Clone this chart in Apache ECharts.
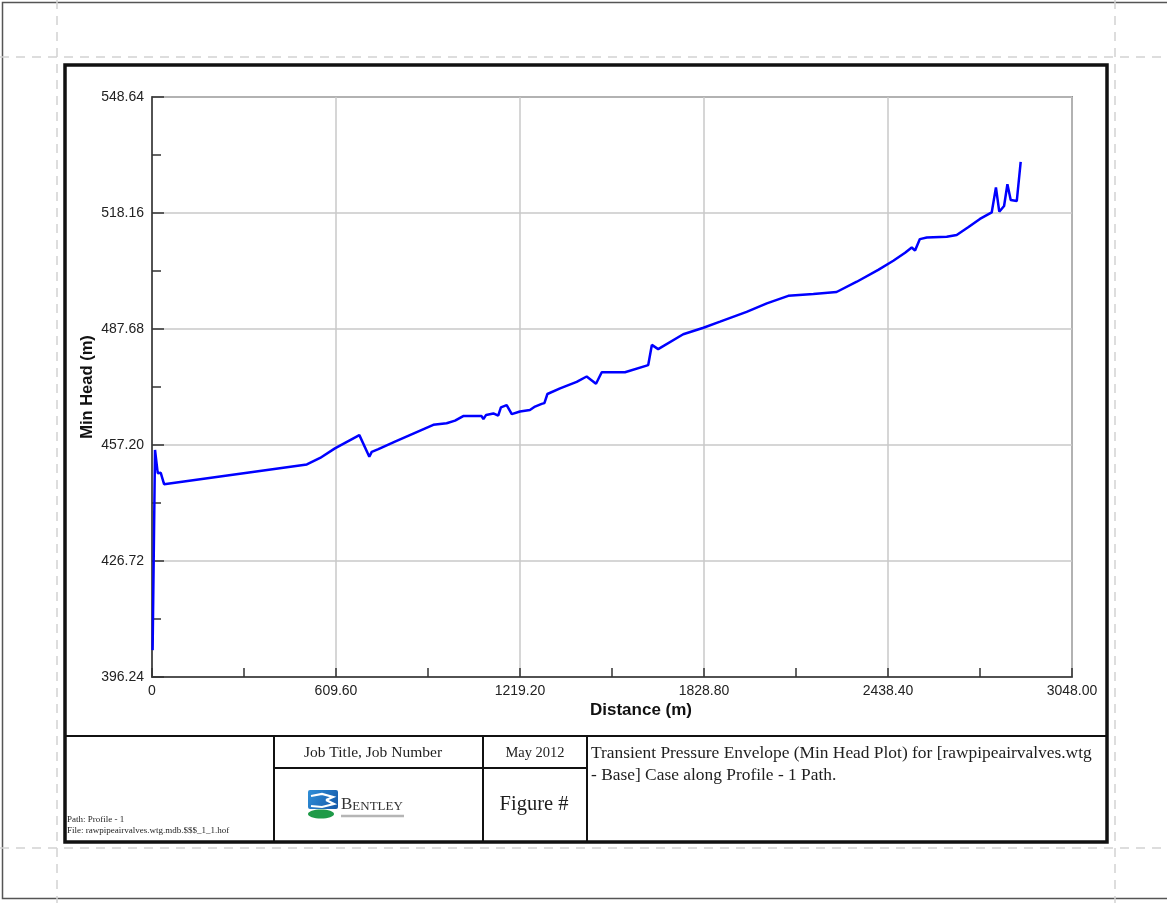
<!DOCTYPE html>
<html>
<head>
<meta charset="utf-8">
<title>Transient Pressure Envelope (Min Head Plot)</title>
<script src="https://cdn.jsdelivr.net/npm/echarts@6/dist/echarts.min.js"></script>
<style>
  html, body { margin: 0; padding: 0; background: #ffffff; }
  #chart { width: 1167px; height: 903px; }
</style>
</head>
<body>
<div id="chart"></div>
<script>
// Distance along the profile path (m)
const distance = [
  2, 10, 19, 29, 40, 513, 557, 606, 687, 720, 728, 750, 805, 932, 976,
  1004, 1031, 1092, 1098, 1107, 1131, 1147, 1156, 1175, 1192, 1219, 1252,
  1269, 1291, 1300, 1310, 1352, 1407, 1440, 1471, 1490, 1567, 1644, 1656,
  1677, 1760, 1827, 1882, 1970, 2037, 2108, 2191, 2268, 2335, 2406, 2456,
  2495, 2517, 2528, 2544, 2567, 2633, 2666, 2704, 2743, 2782, 2796, 2807,
  2823, 2834, 2845, 2865, 2878
];
// Minimum hydraulic head at each distance (m)
const minHead = [
  403.3, 455.9, 449.8, 449.9, 446.9, 452.1, 453.8, 456.3, 459.8, 454.1, 455.4, 456.1, 458.1, 462.5, 462.9,
  463.6, 464.8, 464.8, 464.0, 465.1, 465.5, 464.9, 467.1, 467.7, 465.3, 466.0, 466.4,
  467.3, 468.0, 468.2, 470.6, 472.1, 473.8, 475.2, 473.3, 476.3, 476.3, 478.2, 483.5,
  482.4, 486.3, 488.0, 489.6, 492.2, 494.4, 496.4, 496.9, 497.4, 500.1, 503.2, 505.6,
  507.7, 509.1, 508.3, 511.3, 511.7, 511.9, 512.4, 514.4, 516.6, 518.3, 524.9, 518.5,
  520.0, 525.7, 521.6, 521.3, 531.6
];

// Axis ranges and tick spacing
const xRange = [0, 3048];
const xStep = 609.6;
const yRange = [396.24, 548.64];
const yStep = 30.48;

// Title block texts
const jobTitle = 'Job Title, Job Number';
const dateText = 'May 2012';
const figureText = 'Figure #';
const titleLines = [
  'Transient Pressure Envelope (Min Head Plot) for [rawpipeairvalves.wtg',
  '- Base] Case along Profile - 1 Path.'
];
const footLines = ['Path: Profile - 1', 'File: rawpipeairvalves.wtg.mdb.$$$_1_1.hof'];

const points = distance.map((d, i) => [d, minHead[i]]);

const SANS = 'Liberation Sans, Arial, sans-serif';
const SERIF = 'Liberation Serif, Times New Roman, serif';
const dash = { stroke: '#d2d2d2', lineWidth: 1.5, lineDash: [9, 7] };

function hLine(x1, x2, y, style) {
  return { type: 'line', shape: { x1: x1, y1: y, x2: x2, y2: y }, style: style, silent: true };
}
function vLine(x, y1, y2, style) {
  return { type: 'line', shape: { x1: x, y1: y1, x2: x, y2: y2 }, style: style, silent: true };
}
function txt(x, y, text, font, size, align) {
  return {
    type: 'text', x: x, y: y, silent: true,
    style: { text: text, fontFamily: font, fontSize: size, fill: '#1e1e1e', align: align, verticalAlign: 'middle' }
  };
}

const frameStroke = { stroke: '#111', lineWidth: 2 };

const graphics = [
  // sheet edge and page-tile guides
  { type: 'rect', shape: { x: 2.5, y: 2.5, width: 1170, height: 896 }, style: { fill: 'none', stroke: '#555', lineWidth: 1.5 }, silent: true },
  hLine(0, 1167, 57, dash),
  hLine(0, 1167, 848, dash),
  vLine(57, 0, 903, dash),
  vLine(1115, 0, 903, dash),
  // drawing frame
  { type: 'rect', shape: { x: 65, y: 65, width: 1042, height: 777 }, style: { fill: 'none', stroke: '#111', lineWidth: 3.5 }, silent: true },
  // title block grid
  hLine(65, 1107, 736, frameStroke),
  vLine(274, 736, 842, frameStroke),
  vLine(483, 736, 842, frameStroke),
  vLine(587, 736, 842, frameStroke),
  hLine(274, 587, 768, frameStroke),
  // title block texts
  txt(373, 753, jobTitle, SERIF, 15.5, 'center'),
  txt(535, 753, dateText, SERIF, 14.5, 'center'),
  txt(534, 805, figureText, SERIF, 20.5, 'center'),
  txt(591, 753, titleLines[0], SERIF, 17.4, 'left'),
  txt(591, 775, titleLines[1], SERIF, 17.4, 'left'),
  txt(67, 820, footLines[0], SERIF, 9, 'left'),
  txt(67, 831, footLines[1], SERIF, 9, 'left'),
  // company mark
  {
    type: 'rect', shape: { x: 308, y: 790, width: 30, height: 19, r: 2 }, silent: true,
    style: { fill: new echarts.graphic.LinearGradient(0, 0, 1, 1, [{ offset: 0, color: '#2f8fd8' }, { offset: 1, color: '#1558a8' }]) }
  },
  { type: 'polyline', shape: { points: [[311, 796], [322, 794], [333, 797], [326, 800]] }, style: { fill: 'none', stroke: '#fff', lineWidth: 2.2 }, silent: true },
  { type: 'polyline', shape: { points: [[326, 800], [334, 804], [322, 807], [311, 806]] }, style: { fill: 'none', stroke: '#fff', lineWidth: 2.2 }, silent: true },
  { type: 'ellipse', shape: { cx: 321, cy: 814, rx: 13, ry: 4.5 }, style: { fill: '#1f9a48' }, silent: true },
  hLine(341, 404, 816, { stroke: '#b5b5b5', lineWidth: 2.5 }),
  {
    type: 'text', x: 341, y: 805, silent: true,
    style: {
      text: '{b|B}{s|ENTLEY}', verticalAlign: 'middle', align: 'left',
      rich: {
        b: { fontFamily: SERIF, fontSize: 17, fill: '#333', verticalAlign: 'bottom' },
        s: { fontFamily: SERIF, fontSize: 13, fill: '#333', verticalAlign: 'bottom' }
      }
    }
  }
];

const chart = echarts.init(document.getElementById('chart'), null, { renderer: 'canvas' });

chart.setOption({
  backgroundColor: '#ffffff',
  animation: false,
  grid: {
    left: 152, right: 95, top: 97, bottom: 226,
    show: true, borderColor: '#444', borderWidth: 1.5, backgroundColor: 'transparent'
  },
  xAxis: {
    type: 'value',
    min: xRange[0], max: xRange[1], interval: xStep,
    name: 'Distance (m)', nameLocation: 'middle', nameGap: 25, nameMoveOverlap: false,
    nameTextStyle: { fontFamily: SANS, fontWeight: 'bold', fontSize: 17, color: '#111', padding: [0, 0, 0, 58] },
    axisLine: { show: true, lineStyle: { color: '#333', width: 1.5 } },
    axisTick: { show: true, inside: true, length: 9, lineStyle: { color: '#333', width: 1.5 } },
    minorTick: { show: true, splitNumber: 2, length: 9, lineStyle: { color: '#333', width: 1.5 } },
    axisLabel: {
      fontFamily: SANS, fontSize: 14, color: '#222', margin: 7,
      formatter: v => (v === 0 ? '0' : v.toFixed(2))
    },
    splitLine: { show: true, lineStyle: { color: '#c9c9c9', width: 1.5 } }
  },
  yAxis: {
    type: 'value',
    min: yRange[0], max: yRange[1], interval: yStep,
    name: 'Min Head (m)', nameLocation: 'middle', nameGap: 56, nameMoveOverlap: false,
    nameTextStyle: { fontFamily: SANS, fontWeight: 'bold', fontSize: 16.5, color: '#111' },
    axisLine: { show: true, lineStyle: { color: '#333', width: 1.5 } },
    axisTick: { show: true, inside: true, length: 12, lineStyle: { color: '#333', width: 1.5 } },
    minorTick: { show: true, splitNumber: 2, length: 9, lineStyle: { color: '#333', width: 1.5 } },
    axisLabel: {
      fontFamily: SANS, fontSize: 14, color: '#222', margin: 8,
      showMinLabel: true, showMaxLabel: true,
      formatter: v => v.toFixed(2)
    },
    splitLine: { show: true, lineStyle: { color: '#c9c9c9', width: 1.5 } }
  },
  series: [{
    type: 'line',
    data: points,
    showSymbol: false,
    symbol: 'none',
    lineStyle: { color: '#0000ff', width: 2.5 },
    z: 5
  }],
  graphic: graphics
});
</script>
</body>
</html>
